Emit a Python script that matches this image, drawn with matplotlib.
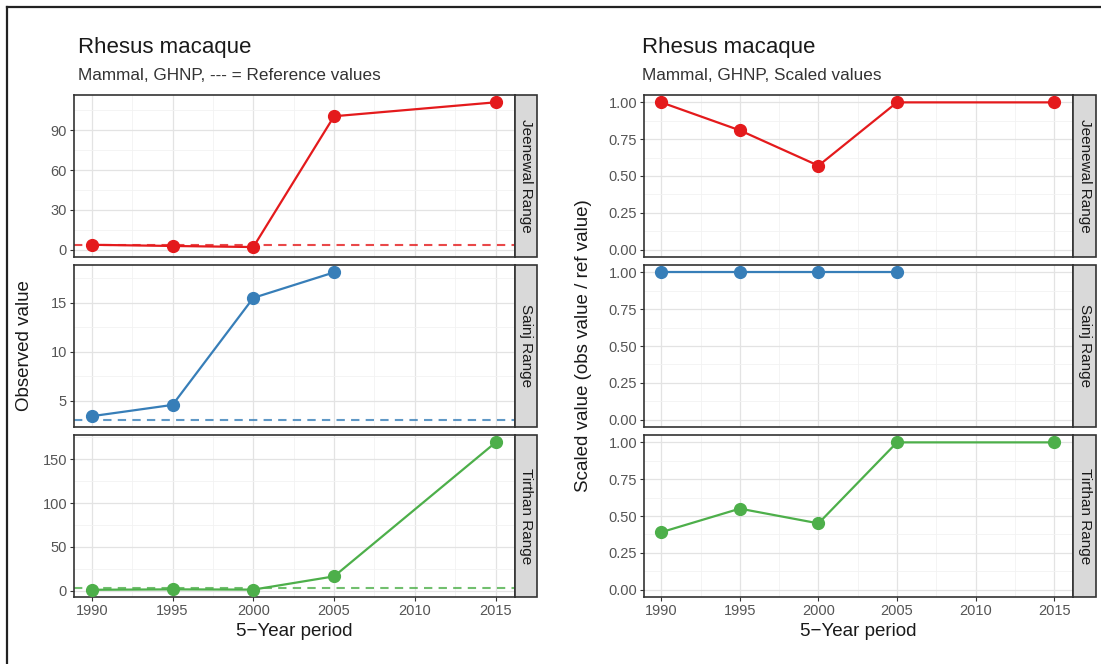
import matplotlib
matplotlib.use("Agg")
import matplotlib.pyplot as plt
import matplotlib.ticker as ticker
from matplotlib.lines import Line2D
from matplotlib.patches import Rectangle

# data
ranges = ["Jeenewal Range", "Sainj Range", "Tirthan Range"]
colors = ["#E41A1C", "#377EB8", "#4DAF4A"]

years_jee = [1990, 1995, 2000, 2005, 2015]
years_sai = [1990, 1995, 2000, 2005]
years_tir = [1990, 1995, 2000, 2005, 2015]

obs_jee = [3.7, 2.8, 2.0, 100.5, 111]
obs_sai = [3.45, 4.6, 15.5, 18.1]
obs_tir = [1.2, 1.7, 1.4, 16.5, 169]

ref_vals = [3.5, 3.1, 3.1]

scaled_jee = [1.0, 0.81, 0.57, 1.0, 1.0]
scaled_sai = [1.0, 1.0, 1.0, 1.0]
scaled_tir = [0.39, 0.55, 0.45, 1.0, 1.0]

obs_ticks = [[0, 30, 60, 90], [5, 10, 15], [0, 50, 100, 150]]
obs_lims = [(-5.5, 116.5), (2.35, 18.85), (-7, 177.5)]
scaled_ticks = [0.0, 0.25, 0.5, 0.75, 1.0]
x_ticks = [1990, 1995, 2000, 2005, 2010, 2015]

years = [years_jee, years_sai, years_tir]
obs = [obs_jee, obs_sai, obs_tir]
scaled = [scaled_jee, scaled_sai, scaled_tir]

plt.rcParams["font.family"] = ["Liberation Sans", "DejaVu Sans"]

W, H = 1101, 664
fig = plt.figure(figsize=(W / 100, H / 100), dpi=100)
fig.patch.set_facecolor("white")


def px_rect(x0, y0, x1, y1):
    return [x0 / W, 1 - y1 / H, (x1 - x0) / W, (y1 - y0) / H]


panel_top, panel_bot, gap = 95, 597, 8
ph = (panel_bot - panel_top - 2 * gap) / 3


def style_ax(ax, show_x):
    ax.set_xlim(1988.9, 2016.2)
    ax.set_xticks(x_ticks)
    ax.xaxis.set_minor_locator(ticker.MultipleLocator(2.5))
    ax.yaxis.set_minor_locator(ticker.AutoMinorLocator(2))
    ax.grid(True, which="major", color="#E3E3E3", linewidth=0.9)
    ax.grid(True, which="minor", color="#F2F2F2", linewidth=0.6)
    ax.set_axisbelow(True)
    for s in ax.spines.values():
        s.set_color("#333333")
        s.set_linewidth(1.2)
    ax.tick_params(axis="both", which="major", length=3, width=0.8,
                   color="#333333", labelsize=10.5, labelcolor="#555555", pad=2)
    ax.tick_params(axis="both", which="minor", length=0)
    if not show_x:
        ax.tick_params(axis="x", which="major", length=0, labelbottom=False)


def strip(x0, x1, y0, y1, label):
    r = Rectangle((x0 / W, 1 - y1 / H), (x1 - x0) / W, (y1 - y0) / H,
                  transform=fig.transFigure, facecolor="#D9D9D9",
                  edgecolor="#333333", linewidth=1.2)
    fig.add_artist(r)
    fig.text((x0 + x1) / 2 / W, 1 - (y0 + y1) / 2 / H, label, rotation=-90,
             ha="center", va="center", fontsize=11, color="#1A1A1A")


layouts = [(74, 515, 537), (644, 1073, 1096)]

for side, (xl, xr, xs) in enumerate(layouts):
    for i in range(3):
        y0 = panel_top + i * (ph + gap)
        y1 = y0 + ph
        ax = fig.add_axes(px_rect(xl, y0, xr, y1))
        if side == 0:
            ax.axhline(ref_vals[i], color=colors[i], linestyle=(0, (4, 3)),
                       linewidth=1.5, alpha=0.8, zorder=2)
            ax.plot(years[i], obs[i], color=colors[i], linewidth=1.6,
                    marker="o", markersize=8.5, zorder=3)
            ax.set_ylim(*obs_lims[i])
            ax.set_yticks(obs_ticks[i])
        else:
            ax.plot(years[i], scaled[i], color=colors[i], linewidth=1.6,
                    marker="o", markersize=8.5, zorder=3)
            ax.set_ylim(-0.05, 1.05)
            ax.set_yticks(scaled_ticks)
            ax.yaxis.set_major_formatter(ticker.FormatStrFormatter("%.2f"))
        style_ax(ax, i == 2)
        strip(xr, xs, y0, y1, ranges[i])
        if i == 2:
            ax.set_xlabel("5\u2212Year period", fontsize=13.5, color="#1A1A1A",
                          labelpad=4)

# titles
fig.text(78 / W, 1 - 47 / H, "Rhesus macaque", fontsize=16,
         color="#1A1A1A", ha="left", va="center")
fig.text(78 / W, 1 - 76 / H, "Mammal, GHNP, --- = Reference values",
         fontsize=12.3, color="#333333", ha="left", va="center")
fig.text(642 / W, 1 - 47 / H, "Rhesus macaque", fontsize=16,
         color="#1A1A1A", ha="left", va="center")
fig.text(642 / W, 1 - 76 / H, "Mammal, GHNP, Scaled values",
         fontsize=12.3, color="#333333", ha="left", va="center")

# y labels
fig.text(25 / W, 1 - 346 / H, "Observed value", rotation=90, fontsize=13.5,
         color="#1A1A1A", ha="center", va="center")
fig.text(584 / W, 1 - 346 / H, "Scaled value (obs value / ref value)",
         rotation=90, fontsize=13.5, color="#1A1A1A", ha="center", va="center")

# outer frame (top and left edge)
fig.add_artist(Line2D([7 / W, 7 / W], [0, 1 - 7 / H], transform=fig.transFigure,
                      color="#222222", linewidth=1.6))
fig.add_artist(Line2D([7 / W, 1], [1 - 7 / H, 1 - 7 / H],
                      transform=fig.transFigure, color="#222222", linewidth=1.6))

fig.savefig("out.png", dpi=100)
